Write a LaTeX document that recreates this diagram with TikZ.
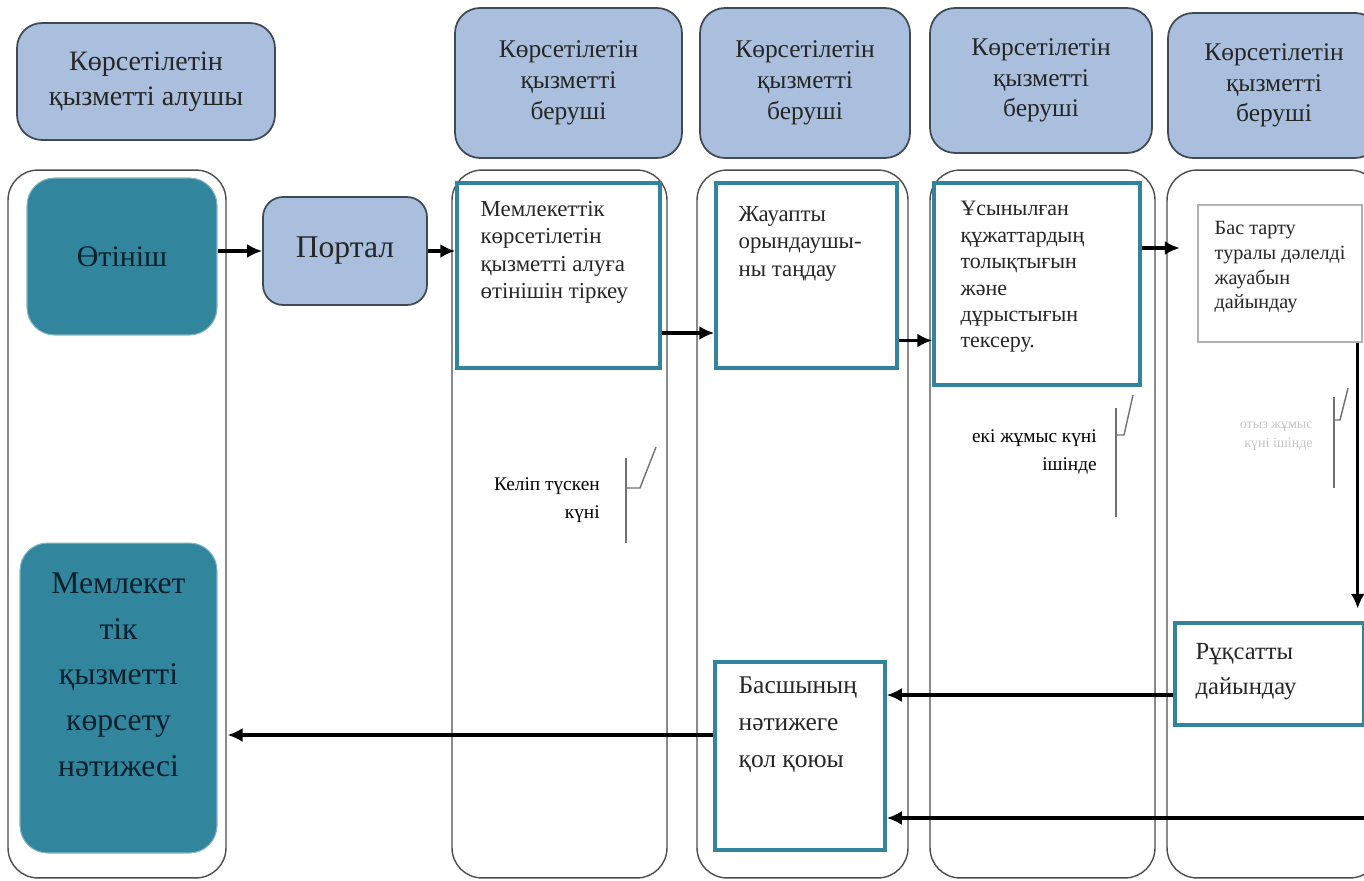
\documentclass[tikz,border=0pt]{standalone}
\usepackage{fontspec}
\setmainfont{Liberation Serif}
\usetikzlibrary{positioning, arrows.meta, calc}

\definecolor{hdrblue}{HTML}{A9BFDD}
\definecolor{hdredge}{HTML}{3F4A55}
\definecolor{darkteal}{HTML}{31859C}
\definecolor{tealedge}{HTML}{31849B}
\definecolor{laneedge}{HTML}{4D4D4D}
\definecolor{navytext}{HTML}{0B1F2C}

\begin{document}
\begin{tikzpicture}[
    x=0.02cm, y=-0.02cm,
    lane/.style={rectangle, draw=laneedge, line width=0.8pt, rounded corners=0.6cm, minimum height=14.16cm},
    header/.style={rectangle, draw=hdredge, line width=1pt, fill=hdrblue, rounded corners=0.5cm, align=center, text=black!85, font=\fontsize{14.5}{17.5}\selectfont},
    tealbox/.style={rectangle, draw=darkteal!60!white, line width=0.6pt, fill=darkteal, rounded corners=0.55cm, text=navytext},
    procbox/.style={rectangle, draw=tealedge, line width=2pt, fill=white},
    plainbox/.style={rectangle, draw=gray!60, line width=0.8pt, fill=white},
    boxtext/.style={align=left, inner sep=0pt, text=black!85},
    note/.style={align=right, inner sep=0pt, anchor=east, font=\fontsize{11}{16}\selectfont},
    callout/.style={draw=laneedge!80, line width=0.8pt},
    line/.style={draw, -{Latex[length=3mm, width=2.8mm]}, line width=1.8pt}
]
    \path[use as bounding box, clip] (0,0) rectangle (1364,881);

    %% SWIM LANES
    \node[lane, minimum width=4.36cm] (recvlane) at (117,524) {};
    \node[lane, minimum width=4.3cm] (lane1) at (559.5,524) {};
    \node[lane, minimum width=4.22cm] (lane2) at (802.5,524) {};
    \node[lane, minimum width=4.5cm] (lane3) at (1042.5,524) {};
    \node[lane, minimum width=4.26cm] (lane4) at (1273.5,524) {};

    %% HEADERS
    \node[header, minimum width=5.16cm, minimum height=2.34cm, font=\fontsize{16}{20}\selectfont] (hrecv) at (146,81.5) {Көрсетілетін\\қызметті алушы};
    \node[header, minimum width=4.54cm, minimum height=3cm] (hprov1) at (568.5,83) {Көрсетілетін\\қызметті\\беруші};
    \node[header, minimum width=4.2cm, minimum height=3cm] (hprov2) at (805,83) {Көрсетілетін\\қызметті\\беруші};
    \node[header, minimum width=4.44cm, minimum height=2.9cm] (hprov3) at (1041,80.5) {Көрсетілетін\\қызметті\\беруші};
    \node[header, minimum width=4.24cm, minimum height=2.9cm] (hprov4) at (1274,85.5) {Көрсетілетін\\қызметті\\беруші};

    %% Receiver side
    \node[tealbox, minimum width=3.8cm, minimum height=3.14cm, font=\fontsize{17}{20}\selectfont] (otinish) at (122,256.5) {Өтініш};
    \node[header, rounded corners=0.4cm, minimum width=3.28cm, minimum height=2.16cm, font=\fontsize{18}{20}\selectfont] (portal) at (345,251) {Портал};
    \node[tealbox, minimum width=3.94cm, minimum height=6.2cm] (result) at (118.5,698) {};
    \node[below=0.6cm of result.north, align=center, inner sep=0pt, text=navytext, font=\fontsize{18}{26}\selectfont] (resulttext) {Мемлекет\\тік\\қызметті\\көрсету\\нәтижесі};

    %% Provider steps
    \node[procbox, minimum width=4.06cm, minimum height=3.7cm] (reg) at (558.5,275.5) {};
    \node[boxtext, below right=0.4cm and 0.5cm of reg.north west, font=\fontsize{13}{15.5}\selectfont] (regtext) {Мемлекеттік\\көрсетілетін\\қызметті алуға\\өтінішін тіркеу};

    \node[procbox, minimum width=3.62cm, minimum height=3.7cm] (zhauap) at (806.5,275.5) {};
    \node[boxtext, below right=0.5cm and 0.48cm of zhauap.north west, font=\fontsize{13}{15.5}\selectfont] (zhauaptext) {Жауапты\\орындаушы-\\ны таңдау};

    \node[procbox, minimum width=4.12cm, minimum height=4.04cm] (usyn) at (1037,284) {};
    \node[boxtext, below right=0.4cm and 0.56cm of usyn.north west, font=\fontsize{12.5}{15}\selectfont] (usyntext) {Ұсынылған\\құжаттардың\\толықтығын\\және\\дұрыстығын\\тексеру.};

    \node[plainbox, minimum width=3.28cm, minimum height=2.74cm] (bas) at (1280,273.5) {};
    \node[boxtext, below right=0.34cm and 0.34cm of bas.north west, font=\fontsize{11.5}{14}\selectfont] (bastext) {Бас тарту\\туралы дәлелді\\жауабын\\дайындау};

    \node[procbox, minimum width=3.78cm, minimum height=2.04cm] (rukhsat) at (1269.5,674) {};
    \node[boxtext, below right=0.44cm and 0.44cm of rukhsat.north west, font=\fontsize{14}{20}\selectfont] (rukhsattext) {Рұқсатты\\дайындау};

    \node[procbox, minimum width=3.4cm, minimum height=3.76cm] (basshy) at (800,756) {};
    \node[boxtext, below right=0.32cm and 0.5cm of basshy.north west, font=\fontsize{14.5}{21}\selectfont] (basshytext) {Басшының\\нәтижеге\\қол қоюы};

    %% Time notes
    \node[note] (kelip) at (600,500) {Келіп түскен\\күні};
    \draw[callout] (626,458) -- (626,543);
    \draw[callout] (626,488) -- (640,488) -- (656,447);

    \node[note] (ekizhumys) at (1097,452) {екі жұмыс күні\\ішінде};
    \draw[callout] (1116,408) -- (1116,517);
    \draw[callout] (1116,435) -- (1124,435) -- (1133,395);

    \node[note, text=gray!45, font=\fontsize{8}{11}\selectfont] (otyz) at (1313,436) {отыз жұмыс\\күні ішінде};
    \draw[callout] (1334,397) -- (1334,488);
    \draw[callout] (1334,420) -- (1340,420) -- (1348,388);

    %% Paths
    \draw[line] (portal.west -| otinish.east) -- (portal.west);
    \draw[line] (portal.east) -- (portal.east -| reg.west);
    \coordinate (regout) at ([yshift=-1.15cm]reg.east);
    \draw[line] (regout) -- (regout -| zhauap.west);
    \coordinate (zhout) at ([yshift=-1.3cm]zhauap.east);
    \draw[line] (zhout) -- (zhout -| usyn.west);
    \coordinate (usout) at ([yshift=0.72cm]usyn.east);
    \draw[line, shorten >=0.35cm] (usout) -- (usout -| bas.west);
    \coordinate (basout) at ([xshift=-0.1cm]bas.south east);
    \draw[line, shorten >=0.25cm] (basout) -- (basout |- rukhsat.north);

    % back to the head
    \coordinate (signin) at ([yshift=1.22cm]basshy.east);
    \draw[line] (signin -| rukhsat.west) -- (signin);
    \coordinate (pageedge) at (1370,818);
    \draw[line] (pageedge) -- (pageedge -| basshy.east);
    \coordinate (resin) at ([yshift=0.42cm]basshy.west);
    \draw[line, shorten >=0.2cm] (resin) -- (resin -| result.east);

\end{tikzpicture}
\end{document}
